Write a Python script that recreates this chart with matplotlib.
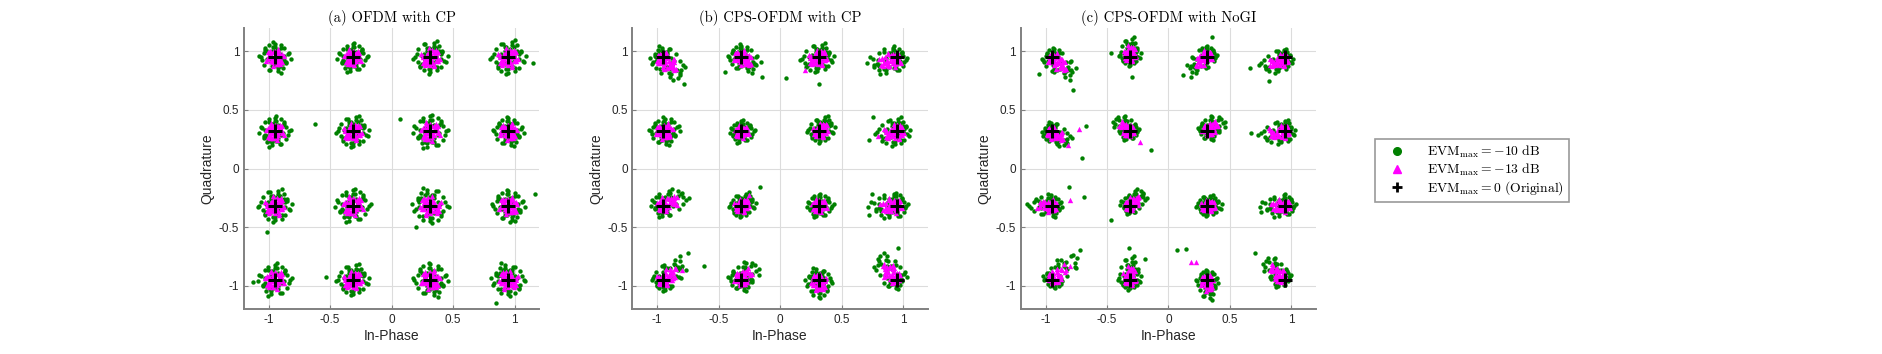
import numpy as np
import matplotlib
matplotlib.use("Agg")
import matplotlib.pyplot as plt
from matplotlib.lines import Line2D

plt.rcParams['font.family'] = ['Liberation Sans', 'DejaVu Sans']
plt.rcParams['mathtext.fontset'] = 'cm'

# 16-QAM reference points (normalized)
levels = [-0.949, -0.316, 0.316, 0.949]
ideal_x = [x for y in levels[::-1] for x in levels]
ideal_y = [y for y in levels[::-1] for x in levels]

# base noise pattern of one cluster
g_dx = [0.02, -0.04, 0.06, -0.01, 0.03, -0.07, 0.05, -0.03, 0.00, 0.08, -0.05, 0.01, -0.02, 0.04, -0.09, 0.07,
        -0.06, 0.02, 0.03, -0.01, 0.10, -0.04, 0.05, -0.08, 0.01, -0.03, 0.06, -0.02, 0.04, -0.05, 0.00, 0.09,
        -0.07, 0.03, -0.01, 0.02, -0.06, 0.07, -0.03, 0.01, 0.05, -0.10, 0.04, -0.02, 0.06, -0.04, 0.00, 0.03]
g_dy = [0.05, -0.02, 0.01, 0.07, -0.06, 0.03, -0.04, -0.08, 0.09, 0.02, -0.01, -0.05, 0.04, 0.06, 0.00, -0.03,
        0.05, -0.09, 0.02, -0.06, -0.01, 0.08, -0.07, -0.02, 0.03, 0.01, 0.06, -0.04, -0.10, 0.04, 0.07, 0.03,
        -0.05, -0.01, 0.10, -0.07, 0.06, -0.04, 0.02, 0.05, -0.03, 0.01, 0.08, -0.06, -0.02, -0.08, 0.04, 0.00]
m_dx = [0.01, -0.02, 0.03, -0.01, 0.02, -0.03, 0.00, 0.04, -0.04, 0.01, -0.02, 0.02, 0.03, -0.01, 0.00,
        -0.03, 0.02, -0.02, 0.04, 0.01, -0.04, 0.00, 0.02, -0.01, 0.03, -0.03, 0.01, -0.02, 0.00, 0.02,
        0.05, -0.05, 0.02, -0.01, 0.04, -0.03, 0.01, 0.03, -0.04, 0.00]
m_dy = [0.02, 0.00, -0.01, 0.03, -0.03, 0.01, -0.02, 0.02, 0.00, -0.04, 0.03, 0.04, -0.02, -0.01, 0.01,
        0.02, -0.03, -0.02, 0.01, 0.03, -0.01, 0.04, 0.00, -0.03, 0.02, 0.03, -0.04, 0.01, -0.02, -0.01,
        0.01, -0.02, 0.05, -0.05, -0.03, 0.04, -0.01, -0.04, 0.03, 0.00]

# per cluster settings, clusters ordered top row first, left to right
titles = ['(a) OFDM with CP', '(b) CPS-OFDM with CP', '(c) CPS-OFDM with NoGI']
flip_x = [[1, -1, 1, 1, -1, 1, -1, 1, 1, -1, -1, 1, -1, 1, 1, -1],
          [-1, 1, 1, -1, 1, -1, 1, 1, -1, 1, -1, -1, 1, 1, -1, 1],
          [1, 1, -1, 1, -1, -1, 1, 1, 1, -1, 1, -1, -1, 1, 1, -1]]
flip_y = [[1, 1, -1, -1, 1, -1, 1, 1, -1, 1, -1, 1, 1, -1, 1, -1],
          [-1, 1, -1, 1, 1, 1, -1, -1, 1, -1, 1, 1, -1, 1, -1, 1],
          [1, -1, 1, -1, -1, 1, 1, -1, 1, 1, -1, 1, -1, -1, 1, 1]]
scale = [[1.3, 1.25, 1.4, 1.45, 1.3, 1.35, 1.45, 1.25, 1.4, 1.45, 1.5, 1.35, 1.4, 1.35, 1.45, 1.4],
         [1.15, 1.1, 1.2, 1.15, 1.15, 0.95, 1.05, 1.2, 1.1, 1.0, 1.0, 1.1, 1.05, 1.05, 1.1, 1.1],
         [1.0, 0.9, 0.9, 0.95, 0.9, 0.85, 0.9, 1.0, 0.95, 0.85, 0.9, 0.95, 0.9, 0.95, 0.9, 0.9]]
elong = [[0] * 16,
         [1.0, 0.6, 0.4, 1.0, 0.3, 0.2, 0.3, 0.5, 1.0, 0.3, 0.2, 1.0, 1.2, 0.8, 0.4, 1.2],
         [1.2, 0.6, 1.2, 1.0, 0.8, 0.8, 0.7, 1.0, 1.0, 0.8, 0.3, 1.0, 2.0, 1.0, 0.7, 1.2]]
angle = [[0] * 16,
         [-45, -30, 200, 190, 30, 0, 45, 190, 25, 30, 0, 180, 45, 45, -90, 125],
         [-40, 90, 225, 200, -30, 135, 35, 190, 180, 45, 0, 180, 45, 90, -90, 130]]
shift_x = [[0] * 16,
           [0.01, 0.0, 0.0, -0.03, 0.0, 0.0, 0.01, -0.01, 0.01, 0.0, 0.0, -0.02, 0.01, 0.0, 0.0, -0.03],
           [0.02, 0.0, -0.01, -0.03, 0.01, -0.01, 0.01, -0.02, -0.01, 0.01, 0.0, -0.01, 0.02, 0.0, 0.0, -0.04]]
shift_y = [[0] * 16,
           [-0.02, 0.0, 0.0, -0.02, 0.0, 0.0, 0.01, 0.0, 0.01, 0.0, 0.0, 0.0, 0.01, 0.01, -0.01, 0.03],
           [-0.02, 0.02, 0.01, -0.02, -0.01, 0.01, 0.02, 0.0, 0.0, 0.01, 0.0, 0.0, 0.02, 0.01, -0.01, 0.03]]

# stray points seen outside the clusters
out_gx = [[-1.13, -0.53, 0.07, 1.17, -1.01, 0.2, -0.62, 0.96, 1.15, 0.85],
          [-0.78, -0.45, -0.15, 0.05, 0.32, 0.72, 0.76, -0.62, -0.16, 0.72, 0.75, -0.75, 0.96],
          [-0.78, -1.05, -0.47, -0.3, 0.12, 0.35, 0.66, 0.82, -0.7, -0.67, -0.14, 0.67,
           -0.81, -0.69, -0.47, 0.75, -0.72, -0.32, -0.19, 0.07, 0.14, 0.7]]
out_gy = [[-0.97, -0.93, 0.42, -0.22, -0.54, -0.5, 0.38, -0.46, 0.9, -1.15],
          [0.72, 0.82, 0.78, 0.77, 0.72, 0.24, 0.44, -0.83, -0.16, -0.4, -0.22, -0.72, -0.68],
          [0.67, 0.81, 0.99, 0.78, 0.8, 1.12, 0.86, 0.75, 0.09, 0.36, 0.16, 0.3,
           -0.16, -0.24, -0.44, -0.37, -0.7, -0.68, -0.77, -0.7, -0.69, -0.72]]
out_mx = [[],
          [-0.8, 0.2, 0.8, -0.25],
          [-0.82, -0.73, -0.23, 0.18, 0.22, 0.82, -0.8]]
out_my = [[],
          [-0.87, 0.84, 0.28, -0.23],
          [0.2, 0.34, 0.23, -0.8, -0.8, 0.35, -0.27]]


def cluster(dx, dy, i, k, sz):
    px = flip_x[k][i] * np.array(dx) * sz
    py = flip_y[k][i] * np.array(dy) * sz
    ux = np.cos(np.radians(angle[k][i]))
    uy = np.sin(np.radians(angle[k][i]))
    proj = np.maximum(px * ux + py * uy, 0)
    x = ideal_x[i] + shift_x[k][i] + scale[k][i] * px + elong[k][i] * proj * ux
    y = ideal_y[i] + shift_y[k][i] + scale[k][i] * py + elong[k][i] * proj * uy
    return x, y


fig = plt.figure(figsize=(18.83, 3.54), dpi=100)
lefts = [0.1296, 0.3359, 0.5422]

for k in range(3):
    ax = fig.add_axes([lefts[k], 0.127, 0.1567, 0.794])
    gx, gy, mx, my = [], [], [], []
    for i in range(16):
        x, y = cluster(g_dx, g_dy, i, k, 1.0)
        gx += list(x)
        gy += list(y)
        x, y = cluster(m_dx, m_dy, i, k, 1.1)
        mx += list(x)
        my += list(y)
    gx += out_gx[k]
    gy += out_gy[k]
    mx += out_mx[k]
    my += out_my[k]
    ax.scatter(gx, gy, s=10, color='#008000', linewidths=0, zorder=3)
    ax.scatter(mx, my, s=15, marker='^', color='#ff00ff', linewidths=0, zorder=4)
    ax.plot(ideal_x, ideal_y, '+', color='black', ms=10, mew=2.2, zorder=5)

    ax.set_xlim(-1.2, 1.2)
    ax.set_ylim(-1.2, 1.2)
    ax.set_xticks([-1, -0.5, 0, 0.5, 1])
    ax.set_yticks([-1, -0.5, 0, 0.5, 1])
    ax.set_xticklabels(['-1', '-0.5', '0', '0.5', '1'])
    ax.set_yticklabels(['-1', '-0.5', '0', '0.5', '1'])
    ax.grid(True, color='#dcdcdc', linewidth=0.8, zorder=0)
    ax.set_axisbelow(True)
    for side in ['top', 'right']:
        ax.spines[side].set_visible(False)
    for side in ['left', 'bottom']:
        ax.spines[side].set_color('#808080')
        ax.spines[side].set_linewidth(1.4)
    ax.tick_params(direction='in', length=3, color='#808080', labelsize=8.5, labelcolor='#262626')
    ax.set_xlabel('In-Phase', fontsize=10, color='#262626', labelpad=2)
    ax.set_ylabel('Quadrature', fontsize=10, color='#262626', labelpad=3)
    ax.set_title(titles[k], fontsize=10.5, pad=4, fontfamily='cmr10')

handles = [
    Line2D([], [], marker='o', ls='', color='#008000', ms=5.5),
    Line2D([], [], marker='^', ls='', color='#ff00ff', ms=5.5),
    Line2D([], [], marker='+', ls='', color='black', ms=7, mew=2),
]
labels = [r'$\mathrm{EVM}_{\max} = {-}10\ \mathrm{dB}$',
          r'$\mathrm{EVM}_{\max} = {-}13\ \mathrm{dB}$',
          r'$\mathrm{EVM}_{\max} = 0\ \mathrm{(Original)}$']
leg = fig.legend(handles, labels, loc='upper left', bbox_to_anchor=(0.730, 0.607), fontsize=9.8,
                 frameon=True, fancybox=False, borderaxespad=0, handletextpad=0.9, labelspacing=0.1,
                 borderpad=0.35, handlelength=2.6)
leg.get_frame().set_edgecolor('#808080')
leg.get_frame().set_linewidth(1.2)

fig.savefig('out.png', dpi=100)
